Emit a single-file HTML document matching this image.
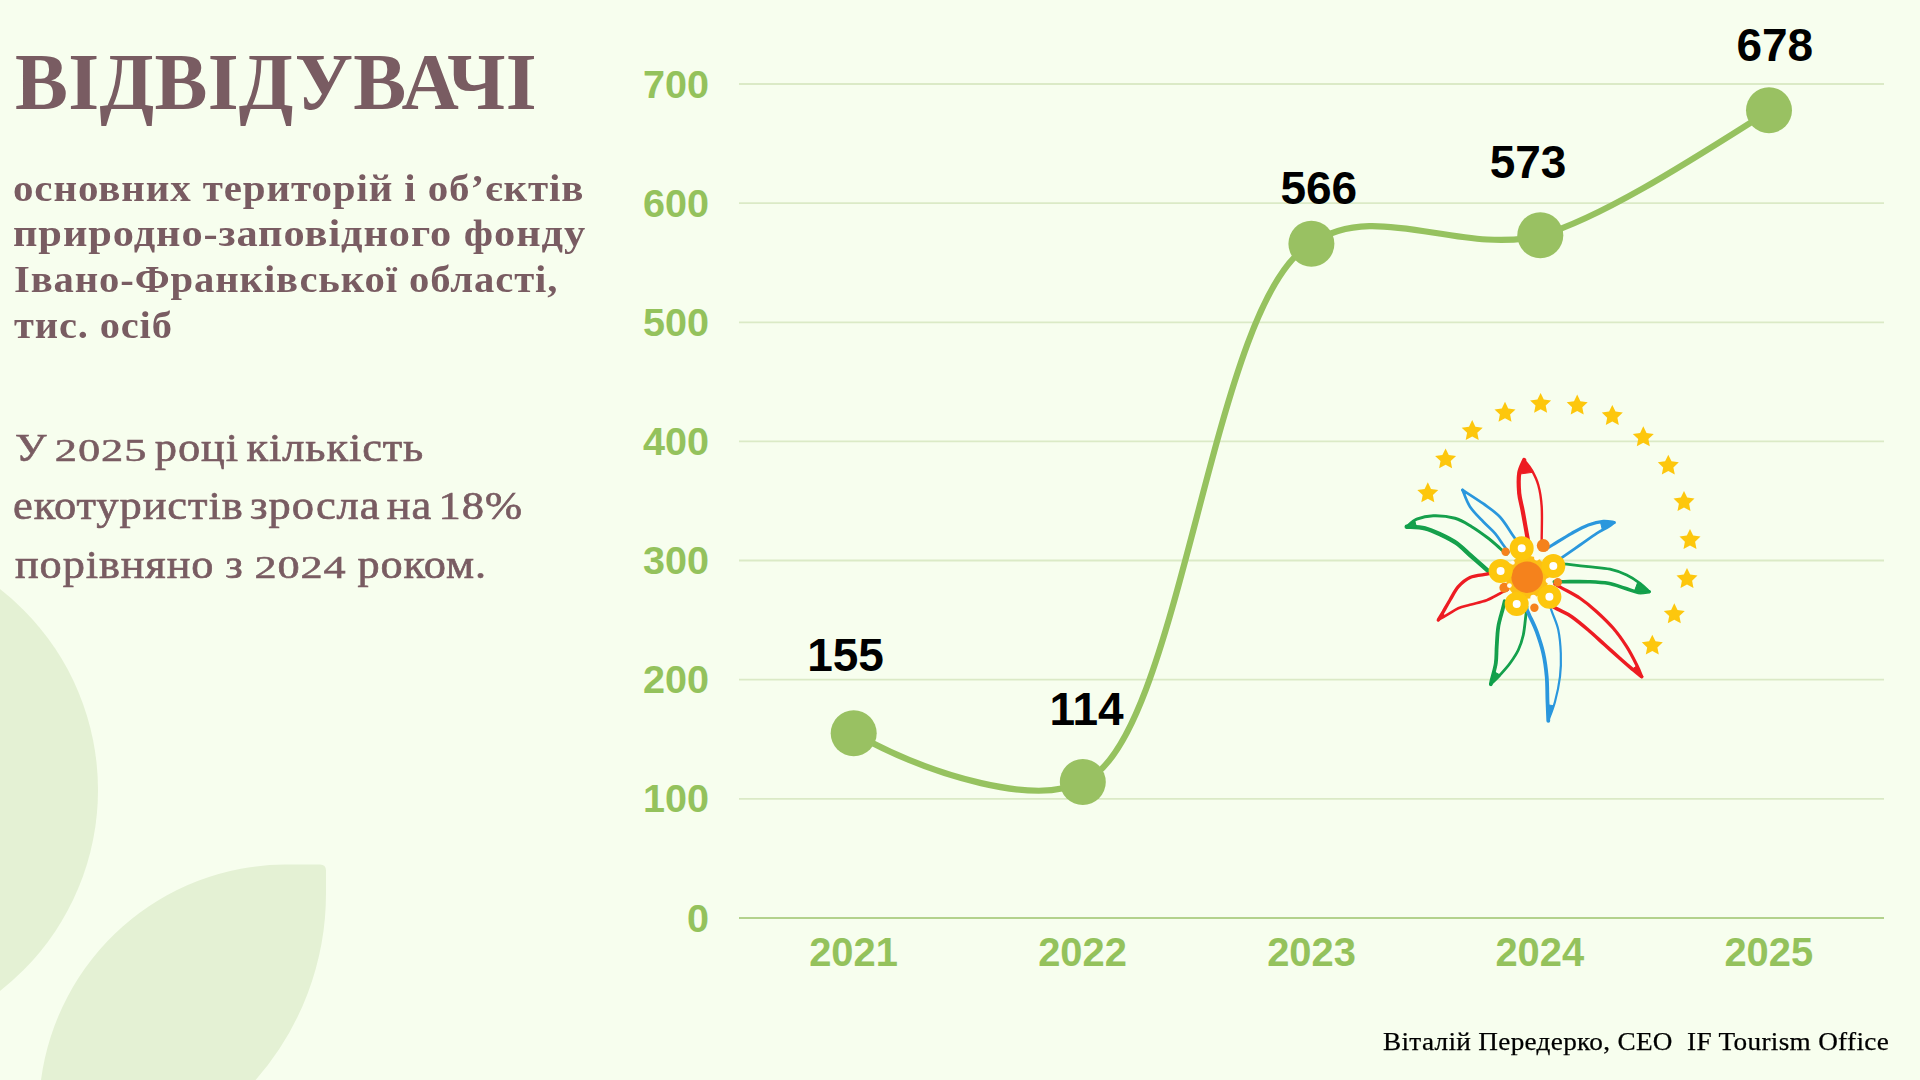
<!DOCTYPE html>
<html lang="uk">
<head>
<meta charset="utf-8">
<title>Відвідувачі</title>
<style>
html,body{margin:0;padding:0;}
body{width:1920px;height:1080px;overflow:hidden;background:#f7feee;position:relative;font-family:"Liberation Serif",serif;}
.abs{position:absolute;white-space:nowrap;line-height:1;margin:0;transform-origin:0 0;}
.t{color:#795c62;}
.ttl,.sub{font-weight:bold;}
.cr{color:#000;-webkit-text-stroke:0.25px #000;}
.body{-webkit-text-stroke:0.65px #795c62;}
.o{display:inline-block;transform-origin:0 81%;transform:scaleY(.8);}
svg{position:absolute;left:0;top:0;}
.ax{font-family:"Liberation Sans",sans-serif;font-weight:bold;fill:#94c25c;font-size:39.6px;}
.dl{font-family:"Liberation Sans",sans-serif;font-weight:bold;fill:#000;font-size:46px;}
</style>
</head>
<body>
<svg id="bgsvg" width="1920" height="1080" viewBox="0 0 1920 1080">
  <circle cx="-157" cy="790" r="255" fill="#e4f1d4"/>
  <path d="M41,1080 A248,248 0 0 1 285,864.5 L320,864.5 Q326,864.5 326,870.5 L326,893 A283,283 0 0 1 255.6,1080 Z" fill="#e4f1d4"/>
</svg>

<div id="title" class="abs t ttl" style="left:15.0px;top:43.4px;font-size:79.4px;letter-spacing:0.3px;word-spacing:0px;transform:scaleX(1.0002)">ВІДВІДУВАЧІ</div>
<div id="s1" class="abs t sub" style="left:13.0px;top:169.7px;font-size:37.4px;letter-spacing:0.8px;word-spacing:0px;transform:scaleX(1.0959)">основних територій і об’єктів</div>
<div id="s2" class="abs t sub" style="left:13.0px;top:215.3px;font-size:37.4px;letter-spacing:0.8px;word-spacing:0px;transform:scaleX(1.1352)">природно-заповідного фонду</div>
<div id="s3" class="abs t sub" style="left:14.0px;top:260.9px;font-size:37.4px;letter-spacing:0.8px;word-spacing:0px;transform:scaleX(1.0883)">Івано-Франківської області,</div>
<div id="s4" class="abs t sub" style="left:14.0px;top:306.8px;font-size:37.4px;letter-spacing:0.8px;word-spacing:0px;transform:scaleX(1.0821)">тис. осіб</div>
<div id="b1" class="abs t body" style="left:15.0px;top:428.8px;font-size:39.5px;letter-spacing:0.8px;word-spacing:-4px;transform:scaleX(1.1247)">У <span class="o">2025</span> році кількість</div>
<div id="b2" class="abs t body" style="left:13.4px;top:486.5px;font-size:39.5px;letter-spacing:0.8px;word-spacing:-5px;transform:scaleX(1.1274)">екотуристів зросла на 18%</div>
<div id="b3" class="abs t body" style="left:15.0px;top:546.3px;font-size:39.5px;letter-spacing:0.8px;word-spacing:-1px;transform:scaleX(1.1218)">порівняно з <span class="o">2024</span> роком.</div>
<div id="credit" class="abs cr" style="left:1383.2px;top:1029.2px;font-size:26.0px;letter-spacing:0.3px;word-spacing:0px;transform:scaleX(1.0469)">Віталій Передерко, CEO&nbsp; IF Tourism Office</div>

<svg id="chart" width="1920" height="1080" viewBox="0 0 1920 1080">
  <g stroke="#dbeac6" stroke-width="1.8" fill="none">
    <line x1="739" y1="84.0" x2="1884" y2="84.0"/>
    <line x1="739" y1="203.1" x2="1884" y2="203.1"/>
    <line x1="739" y1="322.3" x2="1884" y2="322.3"/>
    <line x1="739" y1="441.4" x2="1884" y2="441.4"/>
    <line x1="739" y1="560.5" x2="1884" y2="560.5"/>
    <line x1="739" y1="679.7" x2="1884" y2="679.7"/>
    <line x1="739" y1="798.8" x2="1884" y2="798.8"/>
  </g>
  <line x1="739" y1="917.9" x2="1884" y2="917.9" stroke="#b3d28c" stroke-width="2"/>
  <g class="ax" text-anchor="end">
    <text x="709" y="97.6">700</text>
    <text x="709" y="216.7">600</text>
    <text x="709" y="335.9">500</text>
    <text x="709" y="455.0">400</text>
    <text x="709" y="574.1">300</text>
    <text x="709" y="693.3">200</text>
    <text x="709" y="812.4">100</text>
    <text x="709" y="931.5">0</text>
  </g>
  <g class="ax" text-anchor="middle" style="font-size:39.9px">
    <text x="853.5" y="966">2021</text>
    <text x="1082.5" y="966">2022</text>
    <text x="1311.5" y="966">2023</text>
    <text x="1539.8" y="966">2024</text>
    <text x="1768.8" y="966">2025</text>
  </g>
<defs><filter id="lb" x="-5%" y="-5%" width="110%" height="110%"><feGaussianBlur stdDeviation="0.7"/></filter></defs>
<g id="logo" filter="url(#lb)">
<g fill="none" stroke-linejoin="round" stroke-linecap="round">
<path d="M1528.3,542.2 C1528.0,540.7 1527.7,538.7 1526.7,533.3 C1525.7,527.9 1523.8,516.7 1522.5,510.0 C1521.2,503.3 1519.8,499.4 1519.2,493.3 C1518.7,487.2 1518.4,478.9 1519.2,473.3 C1520.0,467.8 1523.4,462.2 1524.2,460.0" stroke="#ed1c24" stroke-width="4.2"/>
<path d="M1524.2,460.0 C1525.5,461.7 1529.4,465.8 1531.7,470.0 C1534.0,474.2 1536.6,478.9 1538.3,485.0 C1540.0,491.1 1541.1,497.8 1541.7,506.7 C1542.3,515.6 1541.7,531.5 1541.7,538.3 C1541.7,545.1 1541.7,545.8 1541.7,547.3" stroke="#ed1c24" stroke-width="2.4"/>
<path d="M1518.5,543.4 C1517.6,542.1 1516.4,540.4 1513.3,536.0 C1510.2,531.6 1505.0,522.4 1500.0,517.0 C1495.0,511.6 1489.5,508.2 1483.3,503.7 C1477.0,499.2 1466.0,492.3 1462.5,490.0" stroke="#2a97dd" stroke-width="2.7"/>
<path d="M1462.5,490.0 C1463.8,492.8 1466.5,501.4 1470.0,506.7 C1473.5,512.0 1479.1,517.3 1483.3,521.7 C1487.5,526.1 1491.7,529.4 1495.0,533.3 C1498.3,537.2 1501.0,541.8 1503.3,545.0 C1505.6,548.2 1507.6,551.1 1508.5,552.3" stroke="#2a97dd" stroke-width="2.7"/>
<path d="M1506.8,554.1 C1505.7,553.2 1503.1,550.9 1500.0,548.3 C1496.9,545.7 1493.0,541.9 1488.3,538.3 C1483.6,534.7 1477.2,530.0 1471.7,526.7 C1466.2,523.4 1461.4,520.1 1455.0,518.3 C1448.6,516.5 1439.7,515.6 1433.3,515.8 C1426.9,515.9 1421.1,517.4 1416.7,519.2 C1412.3,521.0 1408.4,525.5 1406.7,526.7" stroke="#12a04c" stroke-width="3.0"/>
<path d="M1406.7,526.7 C1409.8,527.0 1419.2,526.9 1425.0,528.3 C1430.8,529.7 1436.4,532.5 1441.7,535.0 C1447.0,537.5 1452.0,540.0 1456.7,543.3 C1461.4,546.6 1465.6,551.1 1470.0,555.0 C1474.4,558.9 1480.0,563.8 1483.3,566.7 C1486.6,569.6 1488.9,571.7 1490.1,572.6" stroke="#12a04c" stroke-width="4.4"/>
<path d="M1495.5,572.5 C1494.1,572.7 1491.0,573.4 1486.7,574.2 C1482.4,575.0 1474.7,575.4 1470.0,577.5 C1465.3,579.6 1461.6,583.0 1458.3,586.7 C1455.0,590.5 1452.5,595.8 1450.0,600.0 C1447.5,604.2 1445.2,608.4 1443.3,611.7 C1441.3,615.0 1439.1,618.6 1438.3,620.0" stroke="#ed1c24" stroke-width="3.4"/>
<path d="M1438.3,620.0 C1440.0,619.0 1445.0,616.2 1448.3,614.2 C1451.6,612.2 1454.7,609.9 1458.3,608.3 C1461.9,606.7 1465.3,606.1 1470.0,604.8 C1474.7,603.4 1481.7,602.1 1486.7,600.2 C1491.7,598.3 1496.4,595.3 1500.0,593.5 C1503.6,591.7 1506.7,590.1 1508.0,589.5" stroke="#ed1c24" stroke-width="2.6"/>
<path d="M1504.7,601.3 C1504.3,602.7 1503.6,605.8 1502.5,610.0 C1501.4,614.2 1499.3,620.6 1498.3,626.7 C1497.3,632.8 1497.1,640.6 1496.7,646.7 C1496.3,652.8 1496.6,657.8 1495.8,663.3 C1495.0,668.8 1492.5,676.5 1491.7,680.0 C1490.9,683.5 1491.0,683.5 1490.8,684.2" stroke="#12a04c" stroke-width="3.8"/>
<path d="M1490.8,684.2 C1492.3,682.7 1496.8,678.5 1500.0,675.0 C1503.2,671.5 1507.0,667.5 1510.0,663.3 C1513.0,659.1 1516.1,654.7 1518.3,650.0 C1520.5,645.3 1522.0,640.7 1523.3,635.0 C1524.5,629.3 1525.2,620.5 1525.8,615.8 C1526.4,611.1 1526.8,608.4 1527.0,606.9" stroke="#12a04c" stroke-width="2.8"/>
<path d="M1525.5,606.8 C1526.1,608.2 1527.3,610.8 1529.2,615.0 C1531.1,619.2 1534.4,625.3 1536.7,631.7 C1539.0,638.1 1541.6,645.8 1543.3,653.3 C1545.0,660.8 1546.0,668.6 1546.7,676.7 C1547.4,684.8 1547.2,694.4 1547.5,701.7 C1547.8,709.1 1548.2,717.6 1548.3,720.8" stroke="#2a97dd" stroke-width="3.8"/>
<path d="M1548.3,720.8 C1549.4,717.6 1553.0,709.1 1555.0,701.7 C1557.0,694.4 1559.0,684.8 1560.0,676.7 C1561.0,668.6 1561.1,661.1 1560.8,653.3 C1560.5,645.5 1559.7,636.7 1558.3,630.0 C1556.9,623.3 1554.0,617.5 1552.5,613.3 C1551.0,609.1 1550.0,606.2 1549.5,604.8" stroke="#2a97dd" stroke-width="2.2"/>
<path d="M1554.7,583.8 C1556.0,584.6 1558.3,585.9 1562.5,588.3 C1566.7,590.7 1574.3,594.4 1580.0,598.3 C1585.7,602.2 1591.2,606.7 1596.7,611.7 C1602.2,616.7 1608.3,622.5 1613.3,628.3 C1618.3,634.1 1622.8,640.6 1626.7,646.7 C1630.6,652.8 1634.2,660.0 1636.7,665.0 C1639.2,670.0 1640.9,674.8 1641.7,676.7" stroke="#ed1c24" stroke-width="3.2"/>
<path d="M1641.7,676.7 C1640.3,675.6 1636.6,672.8 1633.3,670.0 C1630.0,667.2 1626.4,664.2 1621.7,660.0 C1617.0,655.8 1610.6,650.0 1605.0,645.0 C1599.4,640.0 1593.8,634.7 1588.3,630.0 C1582.8,625.3 1576.8,620.2 1571.7,616.7 C1566.6,613.2 1561.2,611.2 1557.5,609.2 C1553.8,607.2 1550.9,605.7 1549.5,605.0" stroke="#ed1c24" stroke-width="3.6"/>
<path d="M1557.8,563.2 C1559.2,563.3 1561.6,563.6 1566.7,564.2 C1571.8,564.8 1581.1,565.9 1588.3,566.7 C1595.5,567.5 1603.6,567.8 1610.0,569.2 C1616.4,570.6 1621.7,572.6 1626.7,575.0 C1631.7,577.4 1636.2,580.5 1640.0,583.3 C1643.8,586.1 1647.7,590.3 1649.2,591.7" stroke="#12a04c" stroke-width="2.8"/>
<path d="M1649.2,591.7 C1647.4,591.8 1642.3,593.1 1638.3,592.5 C1634.3,591.9 1630.0,589.8 1625.0,588.3 C1620.0,586.8 1614.4,584.4 1608.3,583.3 C1602.2,582.2 1595.8,582.0 1588.3,581.7 C1580.8,581.4 1569.0,581.7 1563.3,581.7 C1557.6,581.7 1555.8,581.7 1554.3,581.7" stroke="#12a04c" stroke-width="3.6"/>
<path d="M1544.8,549.7 C1546.1,548.9 1548.0,547.7 1552.5,545.0 C1557.0,542.3 1565.7,536.6 1571.7,533.3 C1577.7,530.0 1583.0,527.0 1588.3,525.0 C1593.6,523.0 1599.0,521.7 1603.3,521.3 C1607.6,520.9 1612.4,522.3 1614.2,522.5" stroke="#2a97dd" stroke-width="3.2"/>
<path d="M1614.2,522.5 C1613.2,523.2 1611.2,524.9 1608.3,526.7 C1605.4,528.5 1601.4,530.2 1596.7,533.3 C1592.0,536.3 1585.6,541.1 1580.0,545.0 C1574.4,548.9 1567.3,553.9 1563.3,556.7 C1559.3,559.5 1557.2,561.0 1555.9,561.9" stroke="#2a97dd" stroke-width="2.8"/>
</g>
<polygon points="1524.2,460.0 1519.2,474.1 1532.7,472.3" fill="#ed1c24" stroke="#ed1c24" stroke-width="1"/>
<polygon points="1462.5,490.0 1466.7,492.8 1464.5,494.6" fill="#2a97dd" stroke="#2a97dd" stroke-width="1"/>
<polygon points="1406.7,526.7 1414.7,520.7 1416.7,527.6" fill="#12a04c" stroke="#12a04c" stroke-width="1"/>
<polygon points="1438.3,620.0 1442.4,613.1 1445.2,616.0" fill="#ed1c24" stroke="#ed1c24" stroke-width="1"/>
<polygon points="1490.8,684.2 1493.8,671.5 1500.0,675.0" fill="#12a04c" stroke="#12a04c" stroke-width="1"/>
<polygon points="1548.3,720.8 1547.6,704.8 1553.6,705.7" fill="#2a97dd" stroke="#2a97dd" stroke-width="1"/>
<polygon points="1641.7,676.7 1637.0,665.7 1632.3,669.2" fill="#ed1c24" stroke="#ed1c24" stroke-width="1"/>
<polygon points="1649.2,591.7 1637.8,582.0 1634.4,591.3" fill="#12a04c" stroke="#12a04c" stroke-width="1"/>
<polygon points="1614.2,522.5 1600.4,522.0 1602.4,530.0" fill="#2a97dd" stroke="#2a97dd" stroke-width="1"/>
<g fill="#fdc70d"><polygon points="1427.8,482.3 1431.0,488.9 1438.3,489.9 1432.9,495.0 1434.3,502.2 1427.8,498.7 1421.3,502.2 1422.7,495.0 1417.3,489.9 1424.6,488.9"/><polygon points="1445.6,448.4 1448.8,455.0 1456.1,456.0 1450.7,461.1 1452.1,468.3 1445.6,464.8 1439.1,468.3 1440.5,461.1 1435.1,456.0 1442.4,455.0"/><polygon points="1472.2,420.1 1475.4,426.7 1482.7,427.7 1477.3,432.8 1478.7,440.0 1472.2,436.5 1465.7,440.0 1467.1,432.8 1461.7,427.7 1469.0,426.7"/><polygon points="1505.0,401.8 1508.2,408.4 1515.5,409.4 1510.1,414.5 1511.5,421.7 1505.0,418.2 1498.5,421.7 1499.9,414.5 1494.5,409.4 1501.8,408.4"/><polygon points="1540.6,392.9 1543.8,399.5 1551.1,400.5 1545.7,405.6 1547.1,412.8 1540.6,409.3 1534.1,412.8 1535.5,405.6 1530.1,400.5 1537.4,399.5"/><polygon points="1577.2,394.6 1580.4,401.2 1587.7,402.2 1582.3,407.3 1583.7,414.5 1577.2,411.0 1570.7,414.5 1572.1,407.3 1566.7,402.2 1574.0,401.2"/><polygon points="1612.3,405.0 1615.5,411.6 1622.8,412.6 1617.4,417.7 1618.8,424.9 1612.3,421.4 1605.8,424.9 1607.2,417.7 1601.8,412.6 1609.1,411.6"/><polygon points="1643.3,426.3 1646.5,432.9 1653.8,433.9 1648.4,439.0 1649.8,446.2 1643.3,442.7 1636.8,446.2 1638.2,439.0 1632.8,433.9 1640.1,432.9"/><polygon points="1668.3,454.7 1671.5,461.3 1678.8,462.3 1673.4,467.4 1674.8,474.6 1668.3,471.1 1661.8,474.6 1663.2,467.4 1657.8,462.3 1665.1,461.3"/><polygon points="1684.0,491.0 1687.2,497.6 1694.5,498.6 1689.1,503.7 1690.5,510.9 1684.0,507.4 1677.5,510.9 1678.9,503.7 1673.5,498.6 1680.8,497.6"/><polygon points="1690.0,529.0 1693.2,535.6 1700.5,536.6 1695.1,541.7 1696.5,548.9 1690.0,545.4 1683.5,548.9 1684.9,541.7 1679.5,536.6 1686.8,535.6"/><polygon points="1687.0,568.0 1690.2,574.6 1697.5,575.6 1692.1,580.7 1693.5,587.9 1687.0,584.4 1680.5,587.9 1681.9,580.7 1676.5,575.6 1683.8,574.6"/><polygon points="1674.3,603.3 1677.5,609.9 1684.8,610.9 1679.4,616.0 1680.8,623.2 1674.3,619.7 1667.8,623.2 1669.2,616.0 1663.8,610.9 1671.1,609.9"/><polygon points="1652.3,634.7 1655.5,641.3 1662.8,642.3 1657.4,647.4 1658.8,654.6 1652.3,651.1 1645.8,654.6 1647.2,647.4 1641.8,642.3 1649.1,641.3"/></g>
<circle cx="1527.2" cy="577.2" r="21.5" fill="#fcbe14"/>
<g fill="#f5821f"><circle cx="1543.3" cy="545.6" r="6.5"/><circle cx="1505.6" cy="551.7" r="4.2"/><circle cx="1557.8" cy="582.2" r="4.2"/><circle cx="1534.4" cy="607.8" r="4.2"/><circle cx="1504.4" cy="587.8" r="5.0"/><circle cx="1527.2" cy="577.2" r="15.8"/></g>
<g fill="#fff" stroke="#fdc70d" stroke-width="8"><circle cx="1521.7" cy="548.3" r="8"/><circle cx="1553.3" cy="566.1" r="8"/><circle cx="1549.4" cy="596.7" r="8"/><circle cx="1516.7" cy="603.9" r="8"/><circle cx="1500.6" cy="571.1" r="8"/></g>
<g fill="#fffdf0"><circle cx="1536.7" cy="557.8" r="2.6"/><circle cx="1512.8" cy="562.8" r="2.0"/><circle cx="1548.3" cy="580.6" r="2.6"/><circle cx="1533.3" cy="597.8" r="3.0"/><circle cx="1509.4" cy="585.6" r="2.4"/></g>
</g>
  <path id="curve" d="M853.5,733 C933.7,777.7 1037.2,805.7 1082.5,781.8 C1180.6,747.1 1211.4,295 1311.5,244 C1374.2,198.9 1459.1,255.4 1540.5,235.6 C1605.3,216.7 1702.2,153.1 1769.5,110.7" fill="none" stroke="#96c25f" stroke-width="6.2" stroke-linecap="round"/>
  <g fill="#99c162">
    <circle cx="853.7" cy="733.2" r="23"/>
    <circle cx="1082.8" cy="782" r="23"/>
    <circle cx="1311.4" cy="243.8" r="23"/>
    <circle cx="1540.3" cy="235.2" r="23"/>
    <circle cx="1769" cy="110.2" r="23"/>
  </g>
  <g class="dl" text-anchor="middle">
    <text x="845.5" y="671.2">155</text>
    <text x="1086.5" y="724.9">114</text>
    <text x="1318.8" y="203.6">566</text>
    <text x="1528" y="177.5">573</text>
    <text x="1774.8" y="61.2">678</text>
  </g>
</svg>

</body>
</html>
